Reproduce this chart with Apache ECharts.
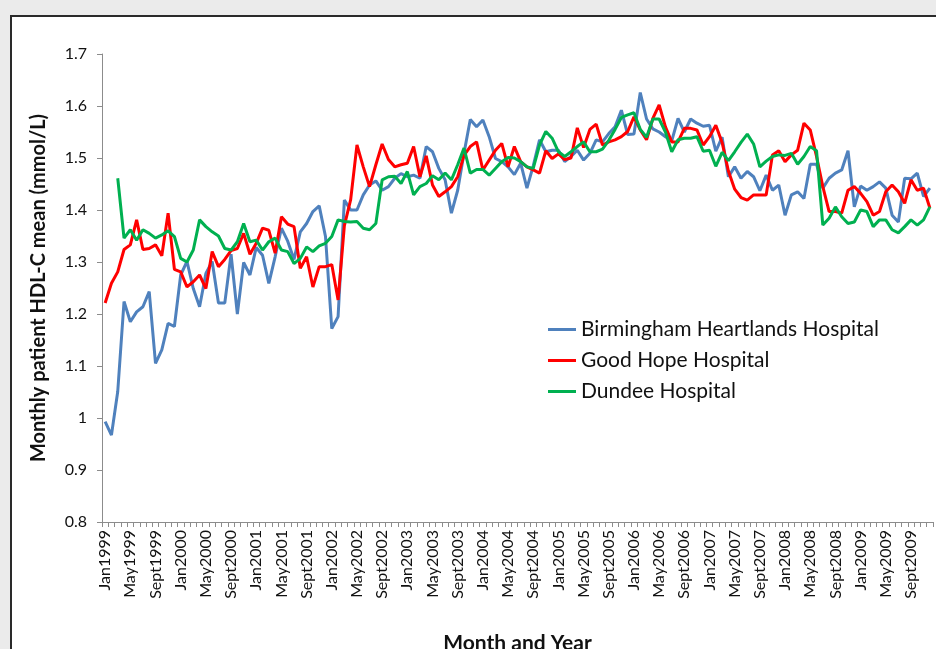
<!DOCTYPE html>
<html>
<head>
<meta charset="utf-8">
<script src="https://cdn.jsdelivr.net/npm/echarts@6/dist/echarts.min.js"></script>
<style>
html,body{margin:0;padding:0;background:#ebebeb;}
#chart{width:936px;height:649px;}
</style>
</head>
<body>
<div id="chart"></div>
<script>
const monthNames = ['Jan','Feb','Mar','Apr','May','Jun','Jul','Aug','Sept','Oct','Nov','Dec'];
const years = [1999,2000,2001,2002,2003,2004,2005,2006,2007,2008,2009];
const seriesNames = ['Birmingham Heartlands Hospital','Good Hope Hospital','Dundee Hospital'];

const birmingham = [
0.993,0.967,1.051,1.224,1.185,1.204,1.214,1.243,1.105,1.131,1.182,1.176,
1.275,1.301,1.249,1.214,1.278,1.301,1.221,1.221,1.315,1.200,1.299,1.275,
1.328,1.313,1.259,1.310,1.365,1.340,1.305,1.358,1.374,1.397,1.408,1.349,
1.172,1.195,1.419,1.400,1.400,1.429,1.448,1.456,1.438,1.445,1.461,1.470,
1.464,1.467,1.461,1.522,1.512,1.480,1.458,1.394,1.438,1.509,1.574,1.560,
1.573,1.541,1.499,1.493,1.483,1.468,1.490,1.442,1.485,1.535,1.512,1.515,
1.515,1.493,1.503,1.515,1.496,1.509,1.535,1.531,1.547,1.560,1.592,1.545,
1.546,1.626,1.575,1.556,1.550,1.541,1.533,1.576,1.550,1.575,1.567,1.561,
1.563,1.513,1.540,1.464,1.483,1.461,1.474,1.464,1.437,1.467,1.438,1.448,
1.390,1.429,1.435,1.422,1.488,1.488,1.442,1.461,1.471,1.477,1.514,1.406,
1.446,1.438,1.445,1.454,1.442,1.390,1.377,1.461,1.460,1.471,1.426,1.442];

const goodHope = [
1.221,1.259,1.281,1.324,1.333,1.381,1.324,1.326,1.333,1.312,1.394,1.286,
1.281,1.252,1.262,1.275,1.249,1.320,1.291,1.305,1.322,1.326,1.355,1.315,
1.336,1.365,1.361,1.317,1.387,1.373,1.368,1.288,1.310,1.252,1.291,1.291,
1.295,1.227,1.370,1.420,1.525,1.483,1.445,1.487,1.527,1.497,1.483,1.487,
1.490,1.522,1.464,1.504,1.448,1.426,1.435,1.445,1.464,1.505,1.522,1.531,
1.477,1.496,1.515,1.528,1.483,1.522,1.493,1.483,1.477,1.471,1.514,1.499,
1.508,1.497,1.500,1.558,1.520,1.555,1.565,1.525,1.531,1.535,1.541,1.551,
1.579,1.554,1.535,1.576,1.602,1.560,1.531,1.531,1.557,1.557,1.554,1.525,
1.541,1.563,1.530,1.475,1.440,1.424,1.419,1.429,1.429,1.429,1.506,1.514,
1.493,1.506,1.515,1.567,1.554,1.503,1.445,1.397,1.397,1.394,1.438,1.445,
1.432,1.416,1.390,1.397,1.435,1.448,1.435,1.413,1.458,1.438,1.442,1.404];

const dundee = [
null,null,1.461,1.346,1.362,1.342,1.362,1.355,1.346,1.352,1.360,1.349,
1.307,1.300,1.323,1.381,1.368,1.358,1.350,1.326,1.323,1.339,1.374,1.339,
1.342,1.323,1.339,1.346,1.323,1.320,1.297,1.307,1.329,1.320,1.331,1.336,
1.349,1.381,1.378,1.377,1.378,1.365,1.362,1.374,1.458,1.464,1.465,1.451,
1.474,1.429,1.445,1.451,1.466,1.458,1.471,1.458,1.487,1.519,1.471,1.478,
1.478,1.467,1.480,1.493,1.501,1.500,1.493,1.483,1.480,1.525,1.551,1.538,
1.512,1.503,1.512,1.522,1.531,1.512,1.512,1.517,1.534,1.555,1.578,1.583,
1.587,1.555,1.540,1.575,1.575,1.550,1.512,1.535,1.538,1.538,1.541,1.513,
1.515,1.484,1.511,1.495,1.512,1.530,1.546,1.527,1.483,1.494,1.503,1.506,
1.505,1.509,1.488,1.503,1.522,1.514,1.371,1.384,1.406,1.387,1.374,1.377,
1.400,1.397,1.368,1.381,1.381,1.362,1.356,1.368,1.381,1.371,1.381,1.406];

const yTicks = {min:0.8, max:1.7, step:0.1};

const categories = [];
years.forEach(y => monthNames.forEach(m => categories.push(m + y)));

const font = 'Lato, "Open Sans", sans-serif';
const chart = echarts.init(document.getElementById('chart'), null, {renderer:'canvas', width:936, height:649});
chart.setOption({
  backgroundColor:'#ebebeb',
  animation:false,
  textStyle:{fontFamily:font},
  graphic:[{type:'rect', z:-10, shape:{x:11, y:16, width:1000, height:1000},
            style:{fill:'#ffffff', stroke:'#2a2a2a', lineWidth:2}}],
  grid:{left:102, top:54, right:3, bottom:127, containLabel:false, outerBoundsMode:'none'},
  legend:{
    orient:'vertical', left:543, top:314,
    icon:'rect', itemWidth:28, itemHeight:3, itemGap:10,
    textStyle:{fontSize:21, lineHeight:20, color:'#111', fontFamily:font},
    data:seriesNames
  },
  xAxis:{
    type:'category', data:categories, boundaryGap:true,
    name:'Month and Year', nameLocation:'middle', nameGap:111,
    nameTextStyle:{fontSize:21, fontWeight:'bold', color:'#111', fontFamily:font},
    axisLine:{lineStyle:{color:'#8c8c8c', width:1}},
    axisTick:{show:true, interval:0, length:5, lineStyle:{color:'#8c8c8c'}},
    axisLabel:{interval:3, rotate:90, fontSize:16, color:'#111', margin:8, fontFamily:font},
    splitLine:{show:false}
  },
  yAxis:{
    type:'value', min:yTicks.min, max:yTicks.max, interval:yTicks.step,
    name:'Monthly patient HDL-C mean (mmol/L)', nameLocation:'middle', nameGap:53, nameRotate:90,
    nameTextStyle:{fontSize:20, fontWeight:'bold', color:'#111', fontFamily:font},
    axisLine:{show:true, lineStyle:{color:'#8c8c8c', width:1}},
    axisTick:{show:true, length:5, lineStyle:{color:'#8c8c8c'}},
    axisLabel:{fontSize:16, color:'#111', margin:15, fontFamily:font,
      formatter: v => String(parseFloat(v.toFixed(1)))},
    splitLine:{show:false}
  },
  series:[
    {name:seriesNames[0], type:'line', data:birmingham, symbol:'none', lineStyle:{color:'#4f81bd', width:3}, itemStyle:{color:'#4f81bd'}},
    {name:seriesNames[1], type:'line', data:goodHope, symbol:'none', lineStyle:{color:'#ff0000', width:3}, itemStyle:{color:'#ff0000'}},
    {name:seriesNames[2], type:'line', data:dundee, symbol:'none', lineStyle:{color:'#00b050', width:3}, itemStyle:{color:'#00b050'}}
  ]
});
</script>
</body>
</html>
